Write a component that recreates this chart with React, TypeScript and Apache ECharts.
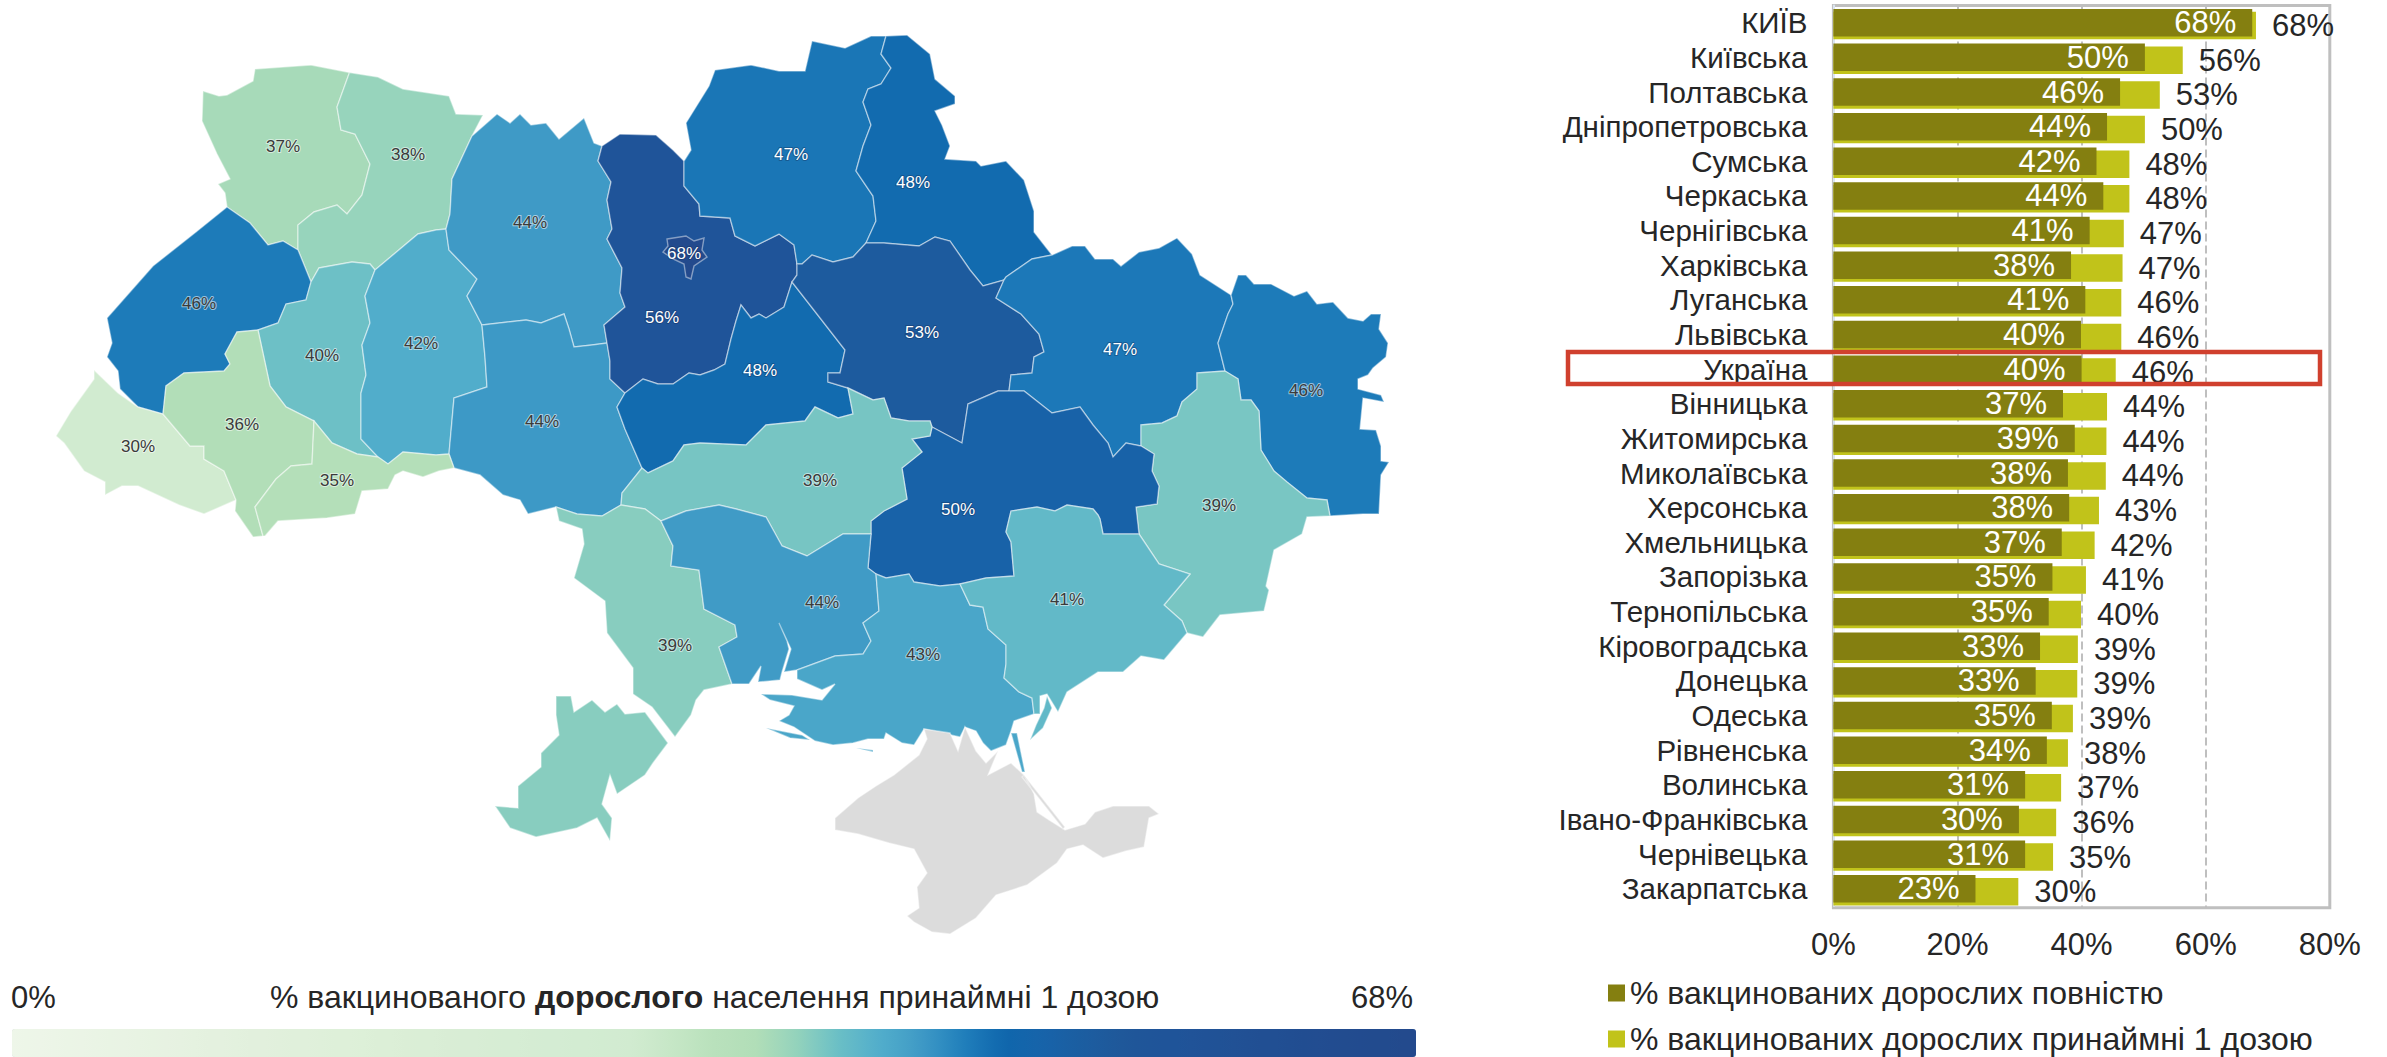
import React, { useEffect, useRef } from "react";
import * as echarts from "echarts";

const FONT = '"Liberation Sans", Arial, sans-serif';
const INK = "#262626";

const categories = ["КИЇВ","Київська","Полтавська","Дніпропетровська","Сумська","Черкаська","Чернігівська","Харківська","Луганська","Львівська","Україна","Вінницька","Житомирська","Миколаївська","Херсонська","Хмельницька","Запорізька","Тернопільська","Кіровоградська","Донецька","Одеська","Рівненська","Волинська","Івано-Франківська","Чернівецька","Закарпатська"];
const fullyVaccinated = [67.5,50.2,46.2,44.1,42.4,43.5,41.3,38.3,40.6,39.9,40,37,38.9,37.8,38,36.8,35.3,34.7,33.3,32.6,35.2,34.4,30.9,29.9,30.9,22.9];
const oneDose = [68.1,56.3,52.6,50.2,47.7,47.7,46.8,46.6,46.4,46.4,45.5,44.1,44,43.9,42.8,42.1,40.7,39.9,39.4,39.3,38.6,37.8,36.7,35.9,35.4,29.8];
const xTicks = [0, 20, 40, 60, 80];
const legendFull = "% вакцинованих дорослих повністю";
const legendOne = "% вакцинованих дорослих принаймні 1 дозою";

// Colour ramp for 0%, 2%, 4% ... 68%
const ramp = ["#eef6e9","#ecf5e7","#eaf4e5","#e8f3e3","#e6f2e1","#e4f1df","#e2f0dd","#e0f0db","#def0d9","#dcefd7","#daeed6","#d8edd5","#d6edd4","#d4ecd3","#d3ecd2","#d1ebd0","#c6e7c6","#b9e1bc","#b2deb8","#94d3bc","#6bbfc6","#52aecb","#3f9ac6","#2180bc","#0f67ad","#1763a9","#1c5da0","#1f5799","#1f5499","#205297","#215094","#214e92","#224c90","#224b8e","#234a8d"];

type Ring = number[][];
// Traced region outlines (page pixels) and label anchors.
const outlines: Record<string, { cp: number[]; rings: Ring[] }> = {
  "Волинська": { cp: [283,146], rings: [[[203,91],[219,96],[227,95],[253,81],[255,69],[311,65],[349.5,72.5],[337,107],[341,130],[355,134],[370,164],[362,195],[347,214],[337,205],[314,212],[298,225],[298,250],[283,241],[268,245],[250,223],[227,207],[225,193],[218,184],[230,179],[217,154],[202,121]]] },
  "Рівненська": { cp: [408,154], rings: [[[349.5,72.5],[378,77],[403,89],[449,96],[456,114],[483,115],[472,136],[452,179],[450,214],[446,229],[436,230],[418,234],[375,270],[370,264],[352,262],[319,268],[311,282],[298,250],[298,225],[314,212],[337,205],[347,214],[362,195],[370,164],[355,134],[341,130],[337,107]]] },
  "Львівська": { cp: [199,303], rings: [[[298,250],[283,241],[268,245],[250,223],[227,207],[196,232],[153,266],[107,318],[112,343],[107,357],[118,371],[120,389],[138,407],[163,414],[166,386],[184,373],[224,371],[230,364],[225,354],[237,332],[258,330],[278,323],[286,304],[306,300],[311,282]]] },
  "Тернопільська": { cp: [322,355], rings: [[[311,282],[319,268],[352,262],[370,264],[375,270],[365,296],[370,323],[362,345],[366,375],[361,393],[361,439],[378,457],[357,454],[332,443],[314,421],[286,407],[270,386],[258,330],[278,323],[286,304],[306,300]]] },
  "Хмельницька": { cp: [421,343], rings: [[[375,270],[418,234],[436,230],[446,229],[449,250],[477,279],[467,296],[482,325],[485,357],[487,387],[454,398],[449,454],[436,455],[403,452],[388,464],[378,457],[361,439],[361,393],[366,375],[362,345],[370,323],[365,296]]] },
  "Житомирська": { cp: [530,222], rings: [[[472,136],[497,114],[510,123],[520,114],[531,125],[546,123],[559,139],[584,118],[594,143],[602,146],[598,161],[611,182],[607,200],[612,229],[607,239],[622,268],[620,293],[625,307],[604,325],[607,343],[592,345],[574,347],[569,329],[564,314],[541,323],[526,320],[482,325],[467,296],[477,279],[449,250],[446,229],[450,214],[452,179]]] },
  "Вінницька": { cp: [542,421], rings: [[[482,325],[526,320],[541,323],[564,314],[569,329],[574,347],[592,345],[607,343],[610,361],[610,379],[625,393],[617,407],[625,429],[642,468],[622,493],[621,505],[602,516],[577,514],[556,507],[528,514],[520,500],[503,495],[480,475],[454,468],[449,454],[454,398],[487,387],[485,357]]] },
  "Закарпатська": { cp: [138,446], rings: [[[94,370],[118,393],[138,407],[163,414],[190,446],[204,446],[204,459],[224,471],[236,500],[204,514],[179,505],[138,486],[122,486],[105,495],[105,482],[84,471],[64,443],[56,436],[71,411],[94,379]]] },
  "Івано-Франківська": { cp: [242,424], rings: [[[163,414],[166,386],[184,373],[224,371],[230,364],[225,354],[237,332],[258,330],[270,386],[286,407],[314,421],[312,464],[291,466],[276,479],[255,507],[263,536],[253,537],[235,511],[236,500],[224,471],[204,459],[204,446],[190,446]]] },
  "Чернівецька": { cp: [337,480], rings: [[[314,421],[332,443],[357,454],[378,457],[388,464],[403,452],[436,455],[449,454],[454,468],[439,471],[423,477],[403,471],[395,475],[388,489],[362,491],[355,514],[327,518],[278,521],[265,536],[263,536],[255,507],[276,479],[291,466],[312,464]]] },
  "Київська": { cp: [662,317], rings: [[[602,146],[620,134],[656,135],[673,150],[684,161],[684,186],[699,204],[700,216],[730,218],[735,236],[755,246],[779,234],[794,245],[797,264],[797,275],[792,282],[784,307],[766,318],[759,314],[751,318],[741,305],[736,321],[731,339],[725,364],[714,370],[700,375],[689,373],[673,384],[658,384],[643,379],[625,393],[610,379],[610,361],[607,343],[604,325],[625,307],[620,293],[622,268],[607,239],[612,229],[607,200],[611,182],[598,161]]] },
  "Черкаська": { cp: [760,370], rings: [[[792,282],[817,314],[845,350],[840,373],[828,373],[828,382],[848,388],[853,414],[838,418],[815,407],[805,421],[766,425],[746,445],[700,443],[684,445],[673,461],[648,473],[642,468],[625,429],[617,407],[625,393],[643,379],[658,384],[673,384],[689,373],[700,375],[714,370],[725,364],[731,339],[736,321],[741,305],[751,318],[759,314],[766,318],[784,307]]] },
  "Чернігівська": { cp: [791,154], rings: [[[684,161],[691,150],[686,123],[709,86],[715,70],[751,65],[779,71],[805,71],[812,41],[845,48],[871,36],[886,36],[881,54],[891,68],[881,84],[868,89],[863,102],[871,125],[863,146],[856,171],[873,196],[876,221],[866,243],[853,257],[833,262],[812,255],[802,264],[797,264],[794,245],[779,234],[755,246],[735,236],[730,218],[700,216],[699,204],[684,186]]] },
  "Сумська": { cp: [913,182], rings: [[[886,36],[907,35],[930,54],[935,79],[955,96],[955,104],[935,111],[942,125],[950,146],[945,159],[976,161],[981,166],[1006,161],[1024,180],[1034,211],[1034,232],[1052,255],[1032,259],[1006,277],[1004,280],[983,286],[970,270],[950,241],[935,237],[919,246],[884,243],[866,243],[876,221],[873,196],[856,171],[863,146],[871,125],[863,102],[868,89],[881,84],[891,68],[881,54]]] },
  "Полтавська": { cp: [922,332], rings: [[[866,243],[884,243],[919,246],[935,237],[950,241],[970,270],[983,286],[1004,280],[996,298],[1021,314],[1039,334],[1044,352],[1034,357],[1032,373],[1011,375],[1009,391],[998,391],[968,404],[962,443],[932,427],[930,421],[909,421],[891,418],[884,398],[873,400],[850,389],[848,388],[828,382],[828,373],[840,373],[845,350],[817,314],[792,282],[797,275],[797,264],[802,264],[812,255],[833,262],[853,257]]] },
  "Харківська": { cp: [1120,349], rings: [[[1004,280],[1006,277],[1032,259],[1052,255],[1072,246],[1085,246],[1095,259],[1113,259],[1121,266],[1139,252],[1159,248],[1177,238],[1192,254],[1200,275],[1231,295],[1233,304],[1228,314],[1218,343],[1225,371],[1197,373],[1197,389],[1182,402],[1177,416],[1162,423],[1141,425],[1141,446],[1126,443],[1113,457],[1108,443],[1093,425],[1080,407],[1052,413],[1024,391],[1009,391],[1011,375],[1032,373],[1034,357],[1044,352],[1039,334],[1021,314],[996,298]]] },
  "Луганська": { cp: [1306,390], rings: [[[1231,295],[1238,275],[1246,275],[1254,284],[1271,284],[1294,296],[1307,291],[1317,304],[1333,302],[1348,318],[1363,321],[1371,314],[1381,314],[1379,329],[1388,343],[1386,357],[1373,368],[1368,375],[1358,379],[1358,389],[1381,395],[1384,402],[1363,398],[1360,429],[1376,430],[1381,446],[1381,461],[1389,462],[1381,475],[1379,514],[1363,514],[1330,516],[1327,500],[1307,498],[1287,482],[1274,471],[1261,450],[1259,411],[1251,400],[1241,400],[1238,379],[1225,371],[1218,343],[1228,314],[1233,304]]] },
  "Донецька": { cp: [1219,505], rings: [[[1225,371],[1238,379],[1241,400],[1251,400],[1259,411],[1261,450],[1274,471],[1287,482],[1307,498],[1327,500],[1330,516],[1307,517],[1302,534],[1274,550],[1266,586],[1269,590],[1264,611],[1220,615],[1203,637],[1187,633],[1182,621],[1164,605],[1190,574],[1159,564],[1139,534],[1136,507],[1157,504],[1159,486],[1152,471],[1154,454],[1141,446],[1141,425],[1162,423],[1177,416],[1182,402],[1197,389],[1197,373]]] },
  "Дніпропетровська": { cp: [958,509], rings: [[[1009,391],[1024,391],[1052,413],[1080,407],[1093,425],[1108,443],[1113,457],[1126,443],[1141,446],[1154,454],[1152,471],[1159,486],[1157,504],[1136,507],[1139,534],[1103,534],[1100,519],[1098,515],[1093,509],[1067,505],[1055,511],[1037,507],[1011,511],[1006,532],[1011,542],[1014,576],[986,578],[960,584],[940,586],[914,582],[909,574],[886,578],[876,574],[868,568],[871,534],[871,521],[884,511],[907,499],[902,468],[922,452],[912,439],[930,436],[932,427],[962,443],[968,404],[998,391]]] },
  "Кіровоградська": { cp: [820,480], rings: [[[848,388],[850,389],[873,400],[884,398],[891,418],[909,421],[930,421],[932,427],[930,436],[912,439],[922,452],[902,468],[907,499],[884,511],[871,521],[871,534],[843,534],[807,556],[782,546],[766,517],[736,509],[719,505],[686,511],[661,521],[645,509],[621,505],[622,493],[642,468],[648,473],[673,461],[684,445],[700,443],[746,445],[766,425],[805,421],[815,407],[838,418],[853,414]]] },
  "Одеська": { cp: [675,645], rings: [[[556,507],[577,514],[602,516],[621,505],[645,509],[661,521],[673,546],[671,566],[699,570],[704,609],[735,625],[737,637],[719,647],[732,684],[704,690],[696,700],[691,715],[675,737],[652,707],[633,694],[633,668],[607,633],[605,601],[574,578],[584,544],[582,529],[559,521]],[[556,696],[571,696],[574,712],[592,700],[605,712],[617,704],[625,714],[645,712],[668,743],[653,763],[645,775],[617,794],[610,775],[602,804],[612,818],[610,841],[597,818],[577,828],[536,837],[510,828],[495,806],[518,808],[518,786],[541,767],[541,753],[559,735],[556,715]]] },
  "Миколаївська": { cp: [822,602], rings: [[[661,521],[686,511],[719,505],[736,509],[766,517],[782,546],[807,556],[843,534],[871,534],[868,568],[876,574],[879,611],[863,623],[871,641],[863,654],[835,656],[797,670],[784,672],[791,649],[779,623],[787,641],[789,649],[782,672],[780,680],[758,682],[761,666],[749,684],[732,684],[719,647],[737,637],[735,625],[704,609],[699,570],[671,566],[673,546]]] },
  "Херсонська": { cp: [923,654], rings: [[[879,611],[876,574],[886,578],[909,574],[914,582],[940,586],[960,584],[970,605],[983,607],[988,629],[1006,645],[1006,664],[1004,678],[1019,692],[1032,698],[1034,714],[1014,721],[1011,731],[1006,745],[991,751],[983,743],[976,731],[965,727],[960,737],[924,729],[914,745],[902,743],[886,733],[884,739],[868,739],[853,743],[833,745],[815,741],[794,727],[779,721],[789,715],[794,706],[770,700],[761,694],[792,695],[822,700],[835,684],[822,690],[797,679],[797,670],[835,656],[863,654],[871,641],[863,623]],[[766,728],[802,735],[810,740],[790,738]],[[856,748],[873,750],[873,752]],[[1011,733],[1017,733],[1025,772],[1022,772]]] },
  "Запорізька": { cp: [1067,599], rings: [[[960,584],[986,578],[1014,576],[1011,542],[1006,532],[1011,511],[1037,507],[1055,511],[1067,505],[1093,509],[1098,515],[1100,519],[1103,534],[1139,534],[1159,564],[1190,574],[1164,605],[1182,621],[1187,633],[1164,660],[1141,656],[1123,672],[1098,672],[1067,692],[1058,712],[1047,694],[1040,696],[1040,714],[1034,714],[1032,698],[1019,692],[1004,678],[1006,664],[1006,645],[988,629],[983,607],[970,605]],[[1047,696],[1052,708],[1043,728],[1030,740],[1036,725],[1044,708]]] },
  "Крим": { cp: [950,830], rings: [[[924,729],[950,733],[958,751],[965,727],[976,751],[986,763],[998,751],[988,775],[1011,763],[1024,775],[1034,794],[1037,812],[1049,820],[1065,830],[1085,824],[1095,812],[1113,806],[1149,806],[1159,814],[1149,818],[1144,847],[1126,851],[1103,858],[1083,845],[1067,849],[1057,863],[1027,885],[996,895],[976,918],[950,934],[932,932],[914,922],[907,916],[919,908],[917,887],[927,873],[914,849],[889,843],[858,834],[835,830],[835,818],[858,798],[876,786],[894,775],[919,755],[927,739]],[[1024,775],[1065,827],[1063,829],[1022,777]]] },
  "КИЇВ": { cp: [684,253], rings: [[[667,239],[686,236],[694,241],[704,238],[702,250],[707,257],[694,266],[691,279],[686,277],[684,264],[673,259],[663,252],[668,246]]] },
};

function buildGeoJson() {
  return {
    type: "FeatureCollection",
    features: Object.keys(outlines).map((name) => {
      const o = outlines[name];
      return {
        type: "Feature",
        properties: { name, cp: [o.cp[0], -o.cp[1]] },
        geometry: {
          type: "MultiPolygon",
          coordinates: o.rings.map((r) => {
            const ring = r.map((p) => [p[0], -p[1]]);
            ring.push(ring[0]);
            return [ring];
          }),
        },
      };
    }),
  };
}

function mapData() {
  const rows: any[] = categories
    .filter((c) => c !== "Україна")
    .map((name) => {
      const value = oneDose[categories.indexOf(name)];
      const dark = value >= 46.6;
      return {
        name,
        value,
        label: {
          color: dark ? "#ffffff" : "#3a3a3a",
          textBorderColor: dark ? "rgba(20,40,80,0.35)" : "rgba(255,255,255,0.55)",
          textBorderWidth: 2,
        },
      };
    });
  rows.push({ name: "Крим", value: NaN, label: { show: false } });
  return rows;
}

export default function App() {
  const ref = useRef<HTMLDivElement>(null);
  useEffect(() => {
    document.body.style.margin = "0";
    echarts.registerMap("ua", buildGeoJson() as any);
    const chart = echarts.init(ref.current!, undefined, { renderer: "svg" });
    const hiddenX = { type: "value", min: 0, max: 80, show: false };
    const pct = (p: any) => Math.round(p.value) + "%";
    chart.setOption({
      animation: false,
      backgroundColor: "#ffffff",
      textStyle: { fontFamily: FONT },
      title: {
        left: 270,
        top: 981,
        padding: 0,
        text: "{a|% вакцинованого }{b|дорослого}{a| населення принаймні 1 дозою}",
        textStyle: {
          fontWeight: "normal",
          rich: {
            a: { fontFamily: FONT, fontSize: 32, fontWeight: "normal", color: INK },
            b: { fontFamily: FONT, fontSize: 32, fontWeight: "bold", color: INK },
          },
        },
      },
      visualMap: {
        type: "continuous",
        seriesIndex: 0,
        min: 0,
        max: 68,
        orient: "horizontal",
        left: 12,
        top: 1029,
        padding: 0,
        itemWidth: 28,
        itemHeight: 1404,
        calculable: false,
        realtime: false,
        hoverLink: false,
        text: null,
        showLabel: false,
        inRange: { color: ramp },
      },
      grid: [
        { left: 1833.4, width: 496.4, top: 5.4, height: 900.7 },
        { left: 1833.4, width: 496.4, top: 8.3, height: 900.7 },
        { left: 1833.4, width: 496.4, top: 5.5, height: 902.2, show: true, borderColor: "#bfbfbf", borderWidth: 3, backgroundColor: "transparent" },
      ],
      xAxis: [
        { ...hiddenX, gridIndex: 0 },
        { ...hiddenX, gridIndex: 1 },
        {
          type: "value",
          gridIndex: 2,
          min: xTicks[0],
          max: xTicks[xTicks.length - 1],
          interval: 20,
          axisLine: { show: false },
          axisTick: { show: false },
          axisLabel: { fontFamily: FONT, fontSize: 31, color: INK, margin: 21, formatter: "{value}%" },
          splitLine: { show: true, lineStyle: { color: "#bfbfbf", type: "dashed", width: 2 } },
        },
      ],
      yAxis: [
        {
          type: "category",
          gridIndex: 0,
          inverse: true,
          data: categories,
          axisLine: { show: true, lineStyle: { color: "#dbe5f1", width: 2 } },
          axisTick: { show: false },
          axisLabel: { fontFamily: FONT, fontSize: 29.5, color: INK, margin: 26, interval: 0 },
        },
        { type: "category", gridIndex: 1, inverse: true, data: categories, show: false },
        { type: "value", gridIndex: 2, min: 0, max: 1, show: false },
      ],
      legend: {
        orient: "vertical",
        left: 1608,
        top: 977,
        height: 120,
        padding: 0,
        itemWidth: 17,
        itemHeight: 17,
        itemGap: 14,
        icon: "rect",
        selectedMode: false,
        textStyle: { fontFamily: FONT, fontSize: 32, color: INK },
        data: [legendFull, legendOne],
      },
      series: [
        {
          type: "map",
          map: "ua",
          silent: true,
          roam: false,
          aspectScale: 1,
          showLegendSymbol: false,
          boundingCoords: [[0, 0], [1416, -1057]],
          left: 0,
          top: 0,
          width: 1416,
          height: 1057,
          itemStyle: { areaColor: "#dcdcdc", borderColor: "rgba(255,255,255,0.45)", borderWidth: 1.4 },
          label: { show: true, fontFamily: FONT, fontSize: 17, formatter: pct },
          data: mapData(),
        },
        {
          type: "bar",
          name: legendOne,
          xAxisIndex: 1,
          yAxisIndex: 1,
          data: oneDose,
          barWidth: 27.5,
          z: 2,
          itemStyle: { color: "#c1c31a" },
          label: { show: true, position: "right", distance: 16, fontFamily: FONT, fontSize: 31, color: INK, formatter: pct },
        },
        {
          type: "bar",
          name: legendFull,
          xAxisIndex: 0,
          yAxisIndex: 0,
          data: fullyVaccinated,
          barWidth: 27.5,
          z: 3,
          itemStyle: { color: "#847f10" },
          label: { show: true, position: "insideRight", distance: 16, fontFamily: FONT, fontSize: 31, color: "#ffffff", formatter: pct },
        },
      ],
      graphic: [
        { type: "text", left: 11, top: 982, style: { text: "0%", fontFamily: FONT, fontSize: 31, fill: INK } },
        { type: "text", left: 1351, top: 982, style: { text: "68%", fontFamily: FONT, fontSize: 31, fill: INK } },
        { type: "rect", z: 50, shape: { x: 1568, y: 352, width: 752, height: 32 }, style: { fill: "transparent", stroke: "#d0402e", lineWidth: 4.5 } },
      ],
    });
    return () => chart.dispose();
  }, []);
  return <div ref={ref} style={{ width: 2387, height: 1057 }} />;
}
